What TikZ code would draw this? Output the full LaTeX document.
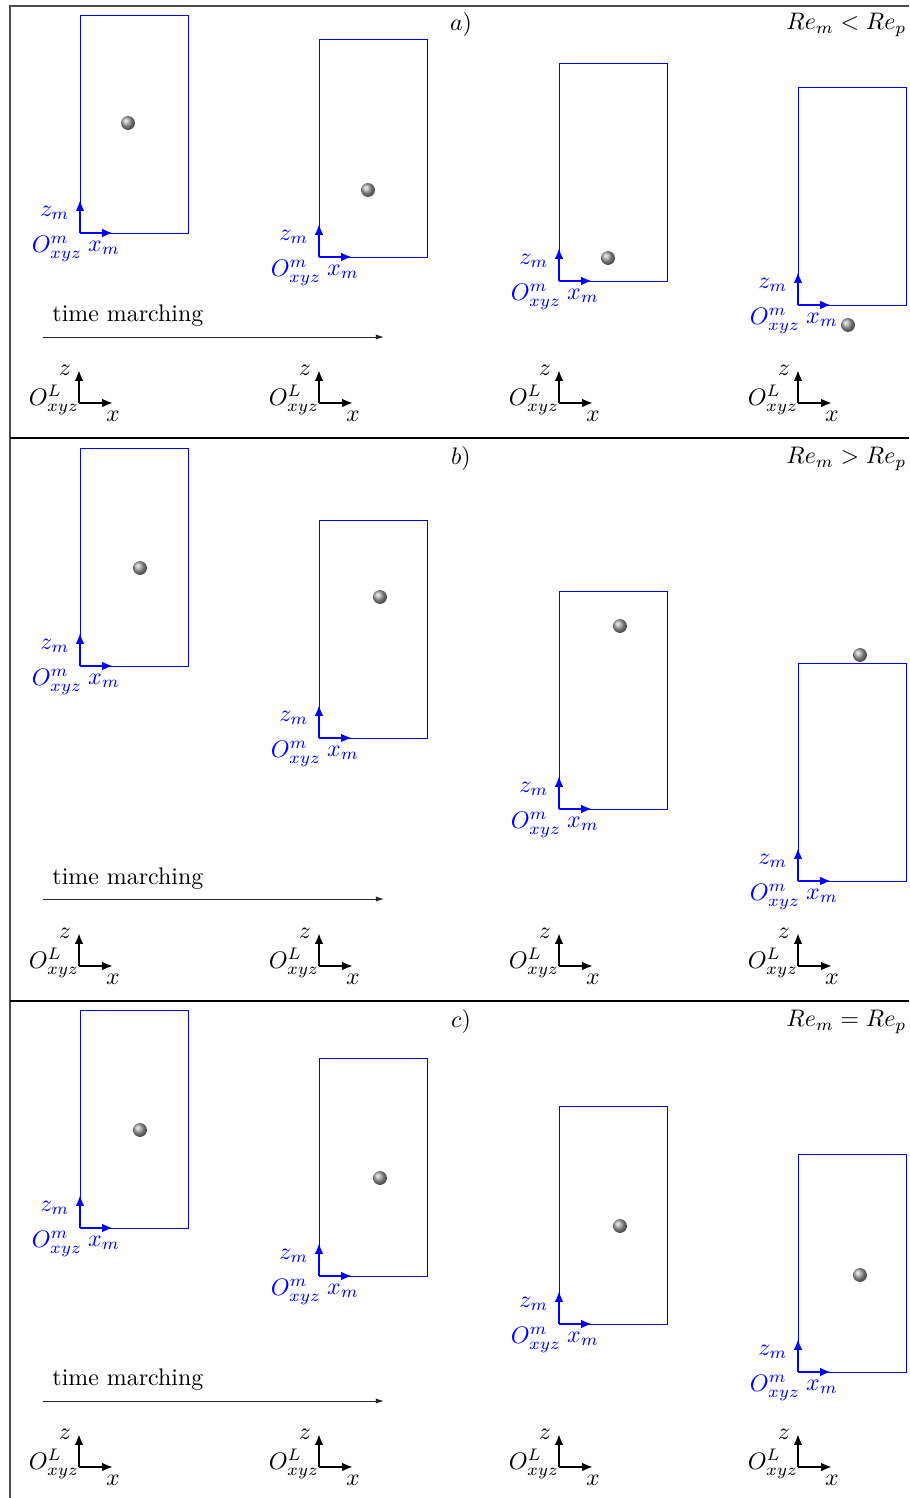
\documentclass[tikz,border=0pt]{standalone}
\usetikzlibrary{arrows.meta}
\begin{document}
\begin{tikzpicture}[x=0.418pt,y=-0.418pt,
  frameline/.style={draw=black!70,line width=0.5pt},
  sepline/.style={draw=black,line width=0.8pt},
  mbox/.style={draw=blue,line width=0.3pt},
  maxis/.style={draw=blue,line width=1.1pt,-{Latex[length=4.5pt,width=3.6pt]}},
  laxis/.style={draw=black,line width=1.1pt,-{Latex[length=4.5pt,width=3.6pt]}},
  timearrow/.style={draw=black!85,line width=0.4pt,-{Latex[length=3.4pt,width=2.2pt]}},
  mlabel/.style={text=blue,inner sep=0pt},
  llabel/.style={text=black,inner sep=0pt},
  sphere/.style={ball color=gray!70}
]
\useasboundingbox (0,0) rectangle (909,1498);
% frame
\draw[frameline] (10,1498) -- (10,6) -- (909,6);
\draw[sepline] (10,438) -- (909,438);
\draw[sepline] (10,1001) -- (909,1001);

% panel titles
\node[llabel] (ta) at (461,25) {$a)$};
\node[llabel,anchor=east] (ra) at (907,25) {$Re_m < Re_p$};
\node[llabel] (tb) at (461,459) {$b)$};
\node[llabel,anchor=east] (rb) at (907,459) {$Re_m > Re_p$};
\node[llabel] (tc) at (461,1022) {$c)$};
\node[llabel,anchor=east] (rc) at (907,1022) {$Re_m = Re_p$};

% moving boxes: name / corner x / corner y / sphere x / sphere y
\foreach \n/\bx/\by/\sx/\sy in {
  a1/80/233/128/123, a2/319/257/368/190, a3/559/281/608/258, a4/798/305/848/325,
  b1/80/666/140/568, b2/319/738/380/597, b3/559/809/620/626, b4/798/881/860/655,
  c1/80/1228/140/1130, c2/319/1276/380/1178, c3/559/1324/620/1226, c4/798/1372/860/1275}{
  \coordinate (o\n) at (\bx,\by);
  \coordinate (zt\n) at (\bx,\by-33);
  \coordinate (xt\n) at (\bx+33,\by);
  \draw[mbox] (o\n) rectangle ++(108,-218);
  \draw[maxis] (o\n) -- (zt\n);
  \draw[maxis] (o\n) -- (xt\n);
  \node[mlabel] (zm\n) at (\bx-25,\by-20) {$z_m$};
  \node[mlabel] (om\n) at (\bx-23,\by+16) {$O^m_{xyz}$};
  \node[mlabel] (xm\n) at (\bx+24,\by+15) {$x_m$};
  \shade[sphere] (\sx,\sy) circle[radius=2.9pt];
}

% lab frames
\foreach \p/\ly in {a/403, b/966, c/1467}{
  \foreach \k/\lx in {1/79, 2/319, 3/559, 4/798}{
    \coordinate (L\p\k) at (\lx,\ly);
    \coordinate (Lz\p\k) at (\lx,\ly-33);
    \coordinate (Lx\p\k) at (\lx+34,\ly);
    \draw[laxis] (L\p\k) -- (Lz\p\k);
    \draw[laxis] (L\p\k) -- (Lx\p\k);
    \node[llabel] (lz\p\k) at (\lx-14,\ly-33) {$z$};
    \node[llabel] (lo\p\k) at (\lx-25,\ly-3) {$O^L_{xyz}$};
    \node[llabel] (lx\p\k) at (\lx+34,\ly+13) {$x$};
  }
}

% time marching
\foreach \p/\ty/\ay in {a/316/337, b/879/899, c/1380/1401}{
  \node[llabel,anchor=west] (tm\p) at (52,\ty) {time marching};
  \coordinate (ts\p) at (43,\ay);
  \coordinate (te\p) at (384,\ay);
  \draw[timearrow] (ts\p) -- (te\p);
}
\end{tikzpicture}
\end{document}
